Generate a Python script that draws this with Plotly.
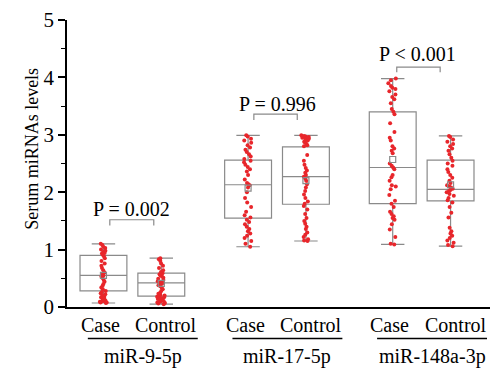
import plotly.graph_objects as go

# ---------------- data ----------------
groups = ["miR-9-5p", "miR-17-5p", "miR-148a-3p"]
subgroups = ["Case", "Control"]
positions = [0, 1, 2.5, 3.5, 5, 6]

q1 = [0.28, 0.19, 1.55, 1.79, 1.80, 1.85]
median = [0.55, 0.42, 2.13, 2.27, 2.43, 2.05]
q3 = [0.90, 0.59, 2.56, 2.79, 3.40, 2.56]
lower = [0.07, 0.05, 1.05, 1.15, 1.09, 1.06]
upper = [1.10, 0.85, 2.99, 2.99, 3.98, 2.98]
means = [0.55, 0.41, 2.07, 2.20, 2.57, 2.13]

pts_mir9_case = [1.10, 1.08, 1.05, 1.03, 1.00, 0.98, 0.96, 0.94, 0.93, 0.91, 0.88,
                 0.85, 0.80, 0.76, 0.72, 0.68, 0.64, 0.60, 0.57, 0.55, 0.53, 0.50,
                 0.47, 0.44, 0.40, 0.37, 0.34, 0.31, 0.28, 0.26, 0.24, 0.22, 0.20,
                 0.18, 0.17, 0.15, 0.14, 0.12, 0.11, 0.10, 0.09, 0.08, 0.08, 0.07]
pts_mir9_ctrl = [0.85, 0.83, 0.80, 0.76, 0.72, 0.68, 0.64, 0.61, 0.59, 0.57, 0.55,
                 0.53, 0.51, 0.49, 0.47, 0.45, 0.44, 0.43, 0.42, 0.41, 0.40, 0.38,
                 0.36, 0.34, 0.31, 0.28, 0.25, 0.23, 0.21, 0.20, 0.19, 0.18, 0.17,
                 0.16, 0.15, 0.14, 0.13, 0.12, 0.11, 0.10, 0.09, 0.08, 0.07, 0.06, 0.05]
pts_mir17_case = [2.99, 2.97, 2.93, 2.90, 2.86, 2.82, 2.78, 2.74, 2.70, 2.66, 2.62,
                  2.58, 2.55, 2.52, 2.48, 2.44, 2.40, 2.36, 2.30, 2.22, 2.16, 2.14,
                  2.12, 2.08, 2.00, 1.90, 1.82, 1.74, 1.66, 1.60, 1.56, 1.52, 1.48,
                  1.44, 1.40, 1.36, 1.32, 1.28, 1.24, 1.20, 1.15, 1.10, 1.05]
pts_mir17_ctrl = [2.99, 2.98, 2.97, 2.96, 2.95, 2.93, 2.92, 2.90, 2.88, 2.86, 2.84,
                  2.82, 2.80, 2.65, 2.55, 2.48, 2.42, 2.38, 2.34, 2.30, 2.27, 2.24,
                  2.20, 2.14, 2.08, 2.02, 1.96, 1.90, 1.84, 1.80, 1.76, 1.70, 1.62,
                  1.55, 1.50, 1.45, 1.40, 1.36, 1.30, 1.26, 1.22, 1.18, 1.16, 1.15]
pts_mir148_case = [3.98, 3.95, 3.90, 3.85, 3.82, 3.80, 3.76, 3.70, 3.66, 3.62, 3.55,
                   3.45, 3.40, 3.36, 3.20, 3.05, 2.95, 2.90, 2.80, 2.76, 2.72, 2.68,
                   2.50, 2.46, 2.43, 2.40, 2.30, 2.26, 2.20, 2.12, 2.10, 2.05, 1.95,
                   1.85, 1.80, 1.74, 1.66, 1.62, 1.58, 1.55, 1.52, 1.44, 1.35, 1.22,
                   1.10, 1.09]
pts_mir148_ctrl = [2.98, 2.96, 2.92, 2.88, 2.84, 2.80, 2.76, 2.72, 2.66, 2.60, 2.55,
                   2.50, 2.46, 2.40, 2.35, 2.30, 2.25, 2.20, 2.16, 2.12, 2.10, 2.08,
                   2.06, 2.04, 2.02, 2.00, 1.97, 1.94, 1.90, 1.86, 1.82, 1.74, 1.64,
                   1.56, 1.38, 1.32, 1.28, 1.24, 1.20, 1.16, 1.12, 1.08, 1.06]
points = [pts_mir9_case, pts_mir9_ctrl, pts_mir17_case, pts_mir17_ctrl,
          pts_mir148_case, pts_mir148_ctrl]

p_labels = ["P = 0.002", "P = 0.996", "P < 0.001"]
y_ticks = [0, 1, 2, 3, 4, 5]

# ---------------- style ----------------
FONT = "'Liberation Serif', 'Times New Roman', 'DejaVu Serif', serif"
BOX_COLOR = "#8a8a8a"
PT_COLOR = "#e8262b"
BOX_W = 0.81

fig = go.Figure()

for i, pos in enumerate(positions):
    fig.add_trace(go.Box(
        x=[pos], q1=[q1[i]], median=[median[i]], q3=[q3[i]],
        lowerfence=[lower[i]], upperfence=[upper[i]],
        width=BOX_W, whiskerwidth=0.5, boxpoints=False,
        line=dict(color=BOX_COLOR, width=1.2), fillcolor="rgba(255,255,255,0)",
        showlegend=False, hoverinfo="skip"))
    fig.add_trace(go.Box(
        x=[pos] * len(points[i]), y=points[i],
        width=BOX_W, boxpoints="all", jitter=0.2, pointpos=0,
        line=dict(color="rgba(0,0,0,0)", width=0), fillcolor="rgba(0,0,0,0)",
        marker=dict(color=PT_COLOR, size=4, line=dict(width=0)),
        showlegend=False))

fig.add_trace(go.Scatter(
    x=positions, y=means, mode="markers",
    marker=dict(symbol="square-open", size=6, color=BOX_COLOR, line=dict(width=1.2)),
    showlegend=False))

# P-value brackets and labels
brackets = [(0.11, 0.87, 1.52, 1.42), (2.60, 3.35, 3.36, 3.26), (5.07, 5.82, 4.18, 4.09)]
p_pos = [(0.49, 1.71), (3.0, 3.53), (5.42, 4.40)]
shapes = []
annotations = []
for (x0, x1, yt, yb), (px, py), lab in zip(brackets, p_pos, p_labels):
    shapes.append(dict(type="path", xref="x", yref="y",
                       path=f"M {x0},{yb} L {x0},{yt} L {x1},{yt} L {x1},{yb}",
                       line=dict(color=BOX_COLOR, width=1.2)))
    annotations.append(dict(x=px, y=py, xref="x", yref="y", text=lab, showarrow=False,
                            font=dict(family=FONT, size=20, color="black")))

# category labels, group underlines and group labels
for g, name in enumerate(groups):
    a, b = positions[2 * g], positions[2 * g + 1]
    for k, (pos, sub) in enumerate(zip([a, b], subgroups)):
        annotations.append(dict(x=pos, y=-0.062, xref="x", yref="paper", text=sub,
                                showarrow=False, xshift=(-3 if k == 0 else 5),
                                yanchor="middle",
                                font=dict(family=FONT, size=20, color="black")))
    shapes.append(dict(type="line", xref="x", yref="paper", x0=a - 0.27, x1=b + 0.63,
                       y0=-0.11, y1=-0.11, line=dict(color="black", width=1.5)))
    annotations.append(dict(x=(a + b) / 2 + 0.18, y=-0.171, xref="x", yref="paper",
                            text=name, showarrow=False, yanchor="middle",
                            font=dict(family=FONT, size=20, color="black")))

annotations.append(dict(x=0, y=0.551, xref="paper", yref="paper", xshift=-47,
                        text="Serum miRNAs levels", textangle=-90, showarrow=False,
                        font=dict(family=FONT, size=18, color="black")))

# page body adds an 8px margin, so the figure is 8px smaller and shifted
fig.update_layout(
    width=490, height=362,
    margin=dict(l=59, r=0, t=7, b=63),
    plot_bgcolor="white", paper_bgcolor="white",
    shapes=shapes, annotations=annotations,
    xaxis=dict(range=[-0.63, 6.82], showticklabels=False, ticks="", showgrid=False,
               zeroline=False, showline=True, linecolor="black", linewidth=1.5),
    yaxis=dict(range=[0, 5], tickvals=y_ticks, ticks="outside", ticklen=7,
               tickwidth=1.5, tickcolor="black", showgrid=False, zeroline=False,
               showline=True, linecolor="black", linewidth=1.5,
               ticklabeloverflow="allow",
               tickfont=dict(family=FONT, size=21, color="black"),
               minor=dict(dtick=0.5, ticks="outside", ticklen=4, tickwidth=1.2,
                          tickcolor="black", showgrid=False)),
)

fig.write_html("out.html")
